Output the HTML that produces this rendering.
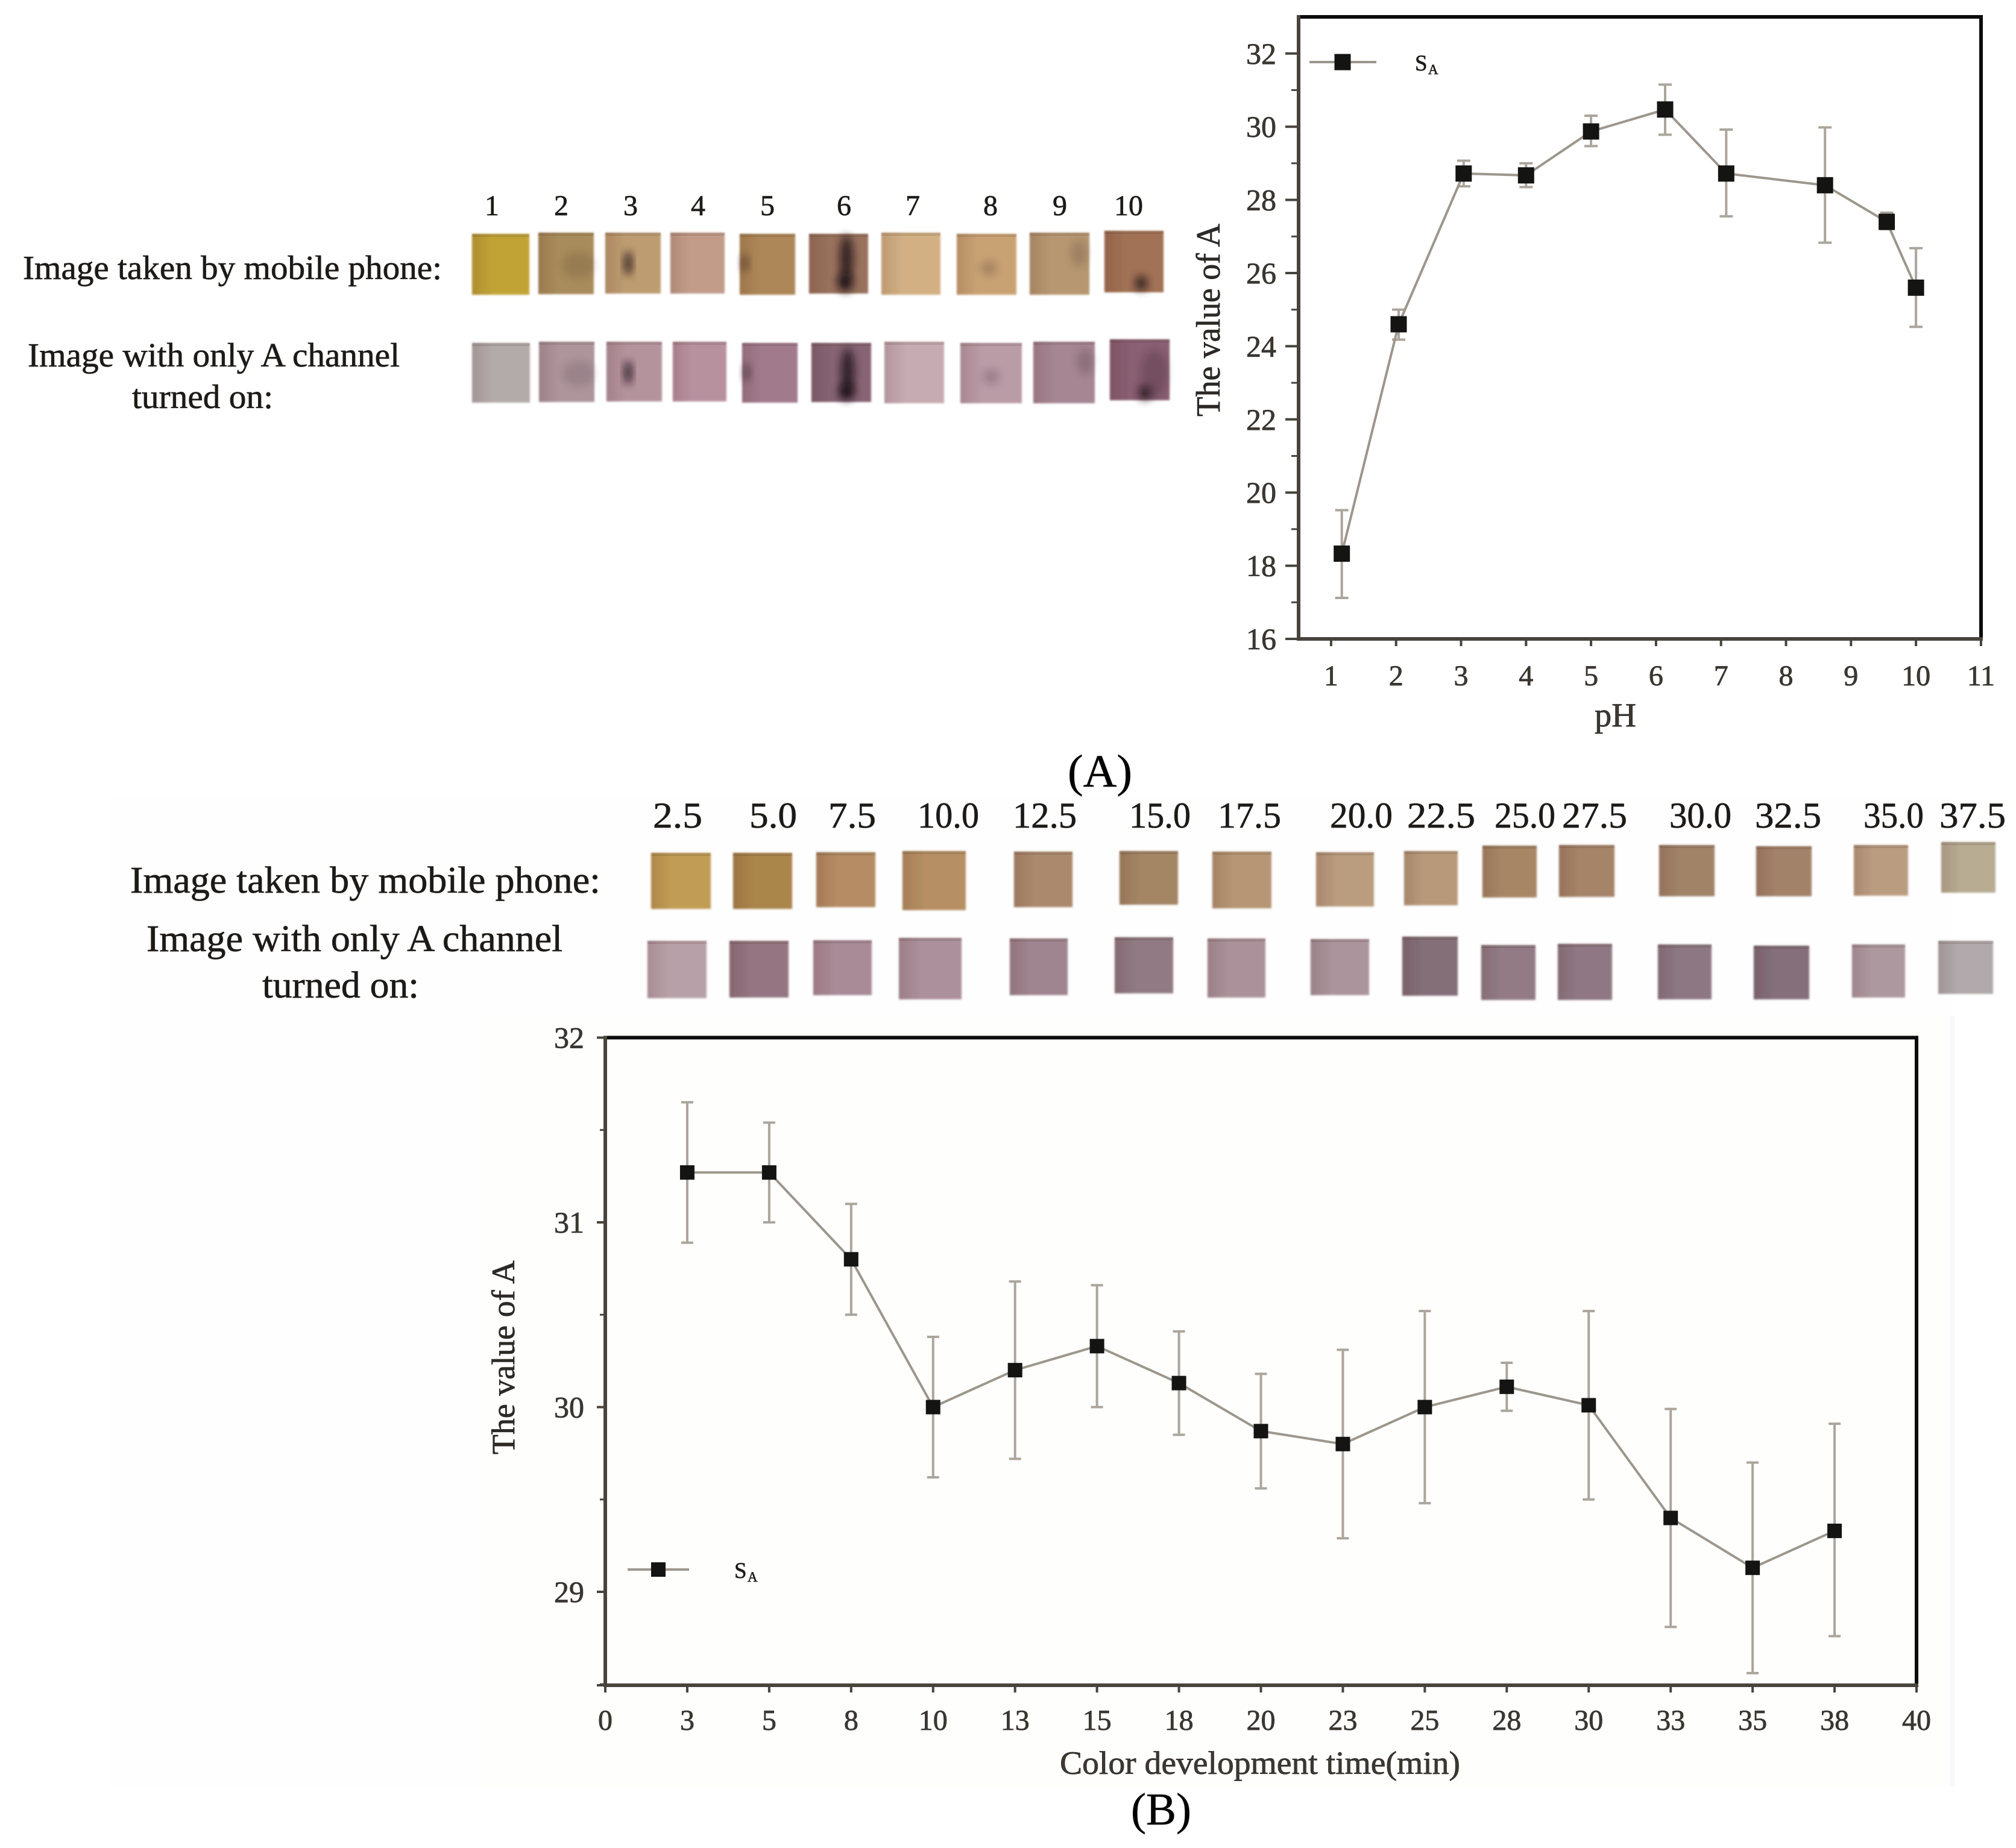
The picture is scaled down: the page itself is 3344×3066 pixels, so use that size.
<!DOCTYPE html>
<html lang="en">
<head>
<meta charset="utf-8">
<title>The value of A vs pH and color development time</title>
<style>
html,body{margin:0;padding:0;background:#fff;}
svg{display:block;}
text{font-family:"Liberation Serif",serif;fill:#1c1a18;stroke:#2a2622;stroke-width:.7;}
#a2,#b2{filter:saturate(.78) brightness(1.03);}
#a1,#b1{filter:saturate(.88) brightness(1.01);}
</style>
</head>
<body>
<svg id="fig" xmlns="http://www.w3.org/2000/svg" width="3344" height="3066" viewBox="0 0 3344 3066">
<defs>
<filter id="soft" x="-10%" y="-10%" width="120%" height="120%"><feGaussianBlur stdDeviation="1.6"/></filter>
<filter id="softer" x="-60%" y="-60%" width="220%" height="220%"><feGaussianBlur stdDeviation="7"/></filter>
<linearGradient id="edge" x1="0" x2="1" y1="0" y2="0"><stop offset="0" stop-color="#3a1a10" stop-opacity=".13"/><stop offset=".35" stop-color="#3a1a10" stop-opacity="0"/></linearGradient>
</defs>
<rect width="3344" height="3066" fill="#ffffff"/>
<rect x="180" y="1322" width="3058" height="1643" fill="#fefefe"/>
<rect x="797" y="1685" width="2441" height="1280" fill="#fefefd"/>
<rect x="3234" y="1685" width="8" height="1280" fill="#f6f8fc"/>

<g id="aNums" font-size="48"></g>
<g id="a1"></g>
<g id="a2"></g>
<text x="38" y="463" font-size="56" textLength="695" lengthAdjust="spacingAndGlyphs">Image taken by mobile phone:</text>
<text x="46" y="608" font-size="56" textLength="617" lengthAdjust="spacingAndGlyphs">Image with only A channel</text>
<text x="219" y="677" font-size="56" textLength="234" lengthAdjust="spacingAndGlyphs">turned on:</text>

<g id="chartA"></g>
<text x="1771" y="1305" font-size="76" textLength="107" lengthAdjust="spacingAndGlyphs" style="fill:#000">(A)</text>

<g id="bNums" font-size="60"></g>
<g id="b1"></g>
<g id="b2"></g>
<text x="216" y="1481" font-size="62" textLength="780" lengthAdjust="spacingAndGlyphs">Image taken by mobile phone:</text>
<text x="243" y="1578" font-size="62" textLength="690" lengthAdjust="spacingAndGlyphs">Image with only A channel</text>
<text x="435" y="1655" font-size="62" textLength="260" lengthAdjust="spacingAndGlyphs">turned on:</text>

<g id="chartB"></g>
<text x="1876" y="3027" font-size="75" textLength="100" lengthAdjust="spacingAndGlyphs" style="fill:#000">(B)</text>
</svg>

<script>
// ---------- chart A data ----------
const phValues = [1.165, 2.04, 3.04, 4.0, 5.0, 6.14, 7.08, 8.6, 9.55, 10.0];
const phMeans = [18.33, 24.6, 28.72, 28.67, 29.87, 30.47, 28.72, 28.4, 27.4, 25.6];
const phUpper = [19.52, 25.0, 29.07, 29.0, 30.3, 31.15, 29.92, 29.98, 27.65, 26.68];
const phLower = [17.12, 24.18, 28.37, 28.35, 29.47, 29.78, 27.55, 26.83, 27.2, 24.53];
const phXTicks = [1, 2, 3, 4, 5, 6, 7, 8, 9, 10, 11];
const phYTicks = [16, 18, 20, 22, 24, 26, 28, 30, 32];
const phYMinor = [17, 19, 21, 23, 25, 27, 29, 31];

// ---------- chart B data ----------
const timeValues = [2.5, 5, 7.5, 10, 12.5, 15, 17.5, 20, 22.5, 25, 27.5, 30, 32.5, 35, 37.5];
const timeMeans = [31.27, 31.27, 30.8, 30.0, 30.2, 30.33, 30.13, 29.87, 29.8, 30.0, 30.11, 30.01, 29.4, 29.13, 29.33];
const timeUpper = [31.65, 31.54, 31.1, 30.38, 30.68, 30.66, 30.41, 30.18, 30.31, 30.52, 30.24, 30.52, 29.99, 29.7, 29.91];
const timeLower = [30.89, 31.0, 30.5, 29.62, 29.72, 30.0, 29.85, 29.56, 29.29, 29.48, 29.98, 29.5, 28.81, 28.56, 28.76];
const timeXTicks = [0, 2.5, 5, 7.5, 10, 12.5, 15, 17.5, 20, 22.5, 25, 27.5, 30, 32.5, 35, 37.5, 40];
const timeXLabels = ['0', '3', '5', '8', '10', '13', '15', '18', '20', '23', '25', '28', '30', '33', '35', '38', '40'];
const timeYTicks = [29, 30, 31, 32];
const timeYMinor = [28.5, 29.5, 30.5, 31.5];

const NS = 'http://www.w3.org/2000/svg';
function mk(parent, tag, attrs, txt) {
  const e = document.createElementNS(NS, tag);
  for (const k in attrs) e.setAttribute(k, attrs[k]);
  if (txt !== undefined) e.textContent = txt;
  parent.appendChild(e);
  return e;
}

// ---------- chart A axis functions ----------
const ax = v => 2154 + (v - 0.5) * 107.8;
const ay = v => 1060 - (v - 16) * 60.7;
// ---------- chart B axis functions ----------
const bx = v => 1004 + v * 54.375;
const by = v => 1721.5 + (32 - v) * 306.5;

function drawChart(g, o) {
  const L = o.left, R = o.right, T = o.top, B = o.bottom;
  let e;
  e = mk(g, 'line', {x1: L, y1: T, x2: R + 3, y2: T, stroke: '#0c0c0c', 'stroke-width': 6});
  
  
  e = mk(g, 'line', {x1: R, y1: T, x2: R, y2: B, stroke: '#0c0c0c', 'stroke-width': 6});
  
  
  e = mk(g, 'line', {x1: L, y1: T - 3, x2: L, y2: B + 3, stroke: '#48443c', 'stroke-width': 6});
  
  
  e = mk(g, 'line', {x1: L, y1: B, x2: R + 3, y2: B, stroke: '#48443c', 'stroke-width': 6});
  
  

  o.yTicks.forEach(v => {
    const y = o.y(v);
    const t = mk(g, 'line', {x1: L - o.majorLen, y1: y, x2: L, y2: y, stroke: '#48443c', 'stroke-width': 4});
    
    
    const l = mk(g, 'text', {x: o.yLabelX, y: y + 17, 'text-anchor': 'end', 'font-size': o.yFont, style: 'fill:#3c3832'}, String(v));
    
    
  });
  o.yMinor.forEach(v => {
    const y = o.y(v);
    const t = mk(g, 'line', {x1: L - o.minorLen, y1: y, x2: L, y2: y, stroke: '#48443c', 'stroke-width': 3});
    
    
  });
  o.xTicks.forEach((v, i) => {
    const x = o.x(v);
    const t = mk(g, 'line', {x1: x, y1: B, x2: x, y2: B + 12, stroke: '#48443c', 'stroke-width': 4});
    
    
    const l = mk(g, 'text', {x: x, y: o.xLabelY, 'text-anchor': 'middle', 'font-size': o.xFont, style: 'fill:#3c3832'}, o.xLabels[i]);
    
    
  });

  // error bars
  o.xs.forEach((v, i) => {
    const x = o.x(v), yu = o.y(o.upper[i]), yl = o.y(o.lower[i]);
    const c = mk(g, 'path', {d: `M${x} ${yu}V${yl}M${x - o.cap} ${yu}H${x + o.cap}M${x - o.cap} ${yl}H${x + o.cap}`, fill: 'none', stroke: '#aba59c', 'stroke-width': 4});
    
    
  });
  // series line
  const pts = o.xs.map((v, i) => o.x(v) + ',' + o.y(o.means[i])).join(' ');
  const pl = mk(g, 'polyline', {points: pts, fill: 'none', stroke: '#9c968c', 'stroke-width': 4});
  
  
  // markers
  o.xs.forEach((v, i) => {
    const s = o.marker;
    const m = mk(g, 'rect', {x: o.x(v) - s / 2, y: o.y(o.means[i]) - s / 2, width: s, height: s, fill: '#141412'});
    
    
  });
  // legend
  const lg = mk(g, 'g', {});
  
  
  const ll = mk(lg, 'line', {x1: o.leg.x1, y1: o.leg.y, x2: o.leg.x2, y2: o.leg.y, stroke: '#9c968c', 'stroke-width': 4});
  
  
  const lm = mk(lg, 'rect', {x: o.leg.mx - o.marker / 2, y: o.leg.y - o.marker / 2, width: o.marker, height: o.marker, fill: '#141412'});
  
  
  const lt = mk(lg, 'text', {x: o.leg.tx, y: o.leg.ty, 'font-size': 37}, 'S');
  
  
  const ls = mk(lg, 'text', {x: o.leg.tx + 22, y: o.leg.ty + 6, 'font-size': 23}, 'A');
  
  

  // titles
  const xt = mk(g, 'text', {x: o.xTitle.x, y: o.xTitle.y, 'font-size': o.xTitle.size, textLength: o.xTitle.len, lengthAdjust: 'spacingAndGlyphs', style: 'fill:#3c3832'}, o.xTitle.text);
  
  
  const yt = mk(g, 'text', {transform: `translate(${o.yTitle.x} ${o.yTitle.y}) rotate(-90)`, 'font-size': o.yTitle.size, textLength: o.yTitle.len, lengthAdjust: 'spacingAndGlyphs', style: 'fill:#2c2a26'}, 'The value of A');
  
  
}

drawChart(document.getElementById('chartA'), {
  left: 2154, right: 3286, top: 28, bottom: 1060, x: ax, y: ay,
  xs: phValues, means: phMeans, upper: phUpper, lower: phLower,
  xTicks: phXTicks, xLabels: phXTicks.map(String), yTicks: phYTicks, yMinor: phYMinor,
  majorLen: 22, minorLen: 12, yLabelX: 2117, yFont: 50, xFont: 48, xLabelY: 1137,
  cap: 11, marker: 27,
  leg: {x1: 2172, x2: 2283, y: 103, mx: 2227, tx: 2347, ty: 117},
  xTitle: {x: 2645, y: 1205, size: 56, len: 69, text: 'pH'},
  yTitle: {x: 2023, y: 691, size: 56, len: 320}
});

drawChart(document.getElementById('chartB'), {
  left: 1004, right: 3179, top: 1721.5, bottom: 2796, x: bx, y: by,
  xs: timeValues, means: timeMeans, upper: timeUpper, lower: timeLower,
  xTicks: timeXTicks, xLabels: timeXLabels, yTicks: timeYTicks, yMinor: timeYMinor,
  majorLen: 14, minorLen: 9, yLabelX: 969, yFont: 50, xFont: 48, xLabelY: 2870,
  cap: 10, marker: 24,
  leg: {x1: 1041, x2: 1143, y: 2604, mx: 1092, tx: 1218, ty: 2618},
  xTitle: {x: 1758, y: 2943, size: 54, len: 664, text: 'Color development time(min)'},
  yTitle: {x: 853, y: 2413, size: 54, len: 322}
});
const bottomTick = mk(document.getElementById('chartB'), 'line', {x1: 990, y1: 2796, x2: 1004, y2: 2796, stroke: '#48443c', 'stroke-width': 4});



// ---------- swatch strips (decorative photo stand-ins) ----------
const swatchA1 = [[783,878,388,489,'#c3a228'],[893,985,386,488,'#ab8a52'],[1004,1096,386,487,'#c09a6a'],[1112,1202,386,487,'#c49a84'],[1227,1319,388,489,'#b08550'],[1342,1440,388,487,'#9c7058'],[1462,1560,386,489,'#d4ae7c'],[1587,1686,388,489,'#cca06c'],[1708,1807,386,489,'#b8956a'],[1832,1930,383,485,'#a5704f']];
const swatchA2 = [[783,879,569,668,'#b0a6a4'],[894,986,567,667,'#ae8f98'],[1006,1098,567,666,'#b68d99'],[1116,1205,567,666,'#bb8a9c'],[1231,1323,569,668,'#a4758a'],[1346,1445,569,667,'#8a5e72'],[1467,1566,567,669,'#c6a4ae'],[1593,1695,569,669,'#bb95a3'],[1714,1816,567,669,'#a88090'],[1841,1940,563,664,'#8f5a72']];
const swatchB1 = [[1080,1179,1415,1508,'#c49a48'],[1216,1314,1415,1508,'#ae8442'],[1354,1452,1414,1505,'#b88a5c'],[1497,1602,1412,1510,'#b98e5c'],[1682,1779,1413,1505,'#ac8768'],[1857,1954,1412,1501,'#a6845e'],[2011,2109,1413,1507,'#b8946e'],[2183,2279,1414,1504,'#bc9a78'],[2329,2418,1412,1502,'#ba9874'],[2459,2549,1403,1489,'#a8845f'],[2586,2678,1402,1488,'#a78263'],[2752,2844,1402,1487,'#a38163'],[2913,3005,1404,1487,'#a58065'],[3075,3165,1402,1486,'#bc9a7c'],[3220,3310,1397,1481,'#b8aa8e']];
const swatchB2 = [[1074,1172,1561,1656,'#b89aa4'],[1210,1308,1561,1655,'#966f7e'],[1349,1446,1560,1651,'#ab8494'],[1491,1595,1556,1658,'#ad8a98'],[1675,1771,1557,1651,'#a07f8c'],[1849,1946,1555,1648,'#917480'],[2003,2099,1557,1655,'#ab8c96'],[2174,2271,1558,1651,'#ab8e98'],[2326,2418,1554,1652,'#846a76'],[2457,2547,1568,1659,'#927682'],[2584,2674,1566,1659,'#907380'],[2750,2839,1567,1658,'#8c7280'],[2909,3001,1569,1658,'#846a78'],[3072,3160,1567,1655,'#ae929c'],[3215,3306,1561,1649,'#ada4a6']];

function drawSwatches(id, list, name) {
  const g = document.getElementById(id);
  list.forEach(s => {
    const w = s[1] - s[0], h = s[3] - s[2];
    const r = mk(g, 'rect', {x: s[0], y: s[2], width: w, height: h, fill: s[4], filter: 'url(#soft)'});
    
    
    mk(g, 'rect', {x: s[0], y: s[2], width: w, height: h, fill: 'url(#edge)', filter: 'url(#soft)'});
    mk(g, 'rect', {x: s[0], y: s[2], width: w, height: 5, fill: '#3a1a10', opacity: .14});
  });
}
drawSwatches('a1', swatchA1, 'phone-image-swatch');
drawSwatches('a2', swatchA2, 'channel-image-swatch');
drawSwatches('b1', swatchB1, 'phone-image-swatch');
drawSwatches('b2', swatchB2, 'channel-image-swatch');

// dark stains inside panel A swatches: x, y, rx, ry, opacity
const stainsA = [[1042,437,6,20,.9],[1042,618,6,20,.9],[1404,428,11,38,.8],[1402,468,13,16,.9],[1406,616,11,38,.8],[1404,650,13,14,.9],[1893,470,10,12,.8],[1899,652,10,12,.8],[1235,437,6,14,.45],[1238,618,6,14,.45],[1640,445,14,12,.2],[1644,625,14,12,.2],[960,440,28,22,.12],[960,620,28,22,.12],[1790,420,14,22,.15],[1800,600,14,22,.18],[1915,620,22,40,.2]];
const stainLayer = document.getElementById('a2');
stainsA.forEach(s => {
  const d = mk(stainLayer, 'ellipse', {cx: s[0], cy: s[1], rx: s[2], ry: s[3], fill: '#1e0f16', opacity: s[4], filter: 'url(#softer)'});
  
  
});

// swatch number labels
const numsA = ['1','2','3','4','5','6','7','8','9','10'];
const numsAX = [816,931,1046,1158,1273,1400,1514,1643,1758,1872];
numsA.forEach((t, i) => {
  const n = mk(document.getElementById('aNums'), 'text', {x: numsAX[i], y: 357, 'text-anchor': 'middle'}, t);
  
  
});
const numsB = ['2.5','5.0','7.5','10.0','12.5','15.0','17.5','20.0','22.5','25.0','27.5','30.0','32.5','35.0','37.5'];
const numsBX = [[1083,82],[1243,79],[1374,79],[1522,102],[1680,106],[1873,102],[2020,105],[2206,104],[2334,113],[2479,101],[2591,108],[2769,103],[2911,110],[3091,100],[3217,110]];
numsB.forEach((t, i) => {
  const n = mk(document.getElementById('bNums'), 'text', {x: numsBX[i][0], y: 1373, textLength: numsBX[i][1], lengthAdjust: 'spacingAndGlyphs'}, t);
  
  
});
</script>
</body>
</html>
